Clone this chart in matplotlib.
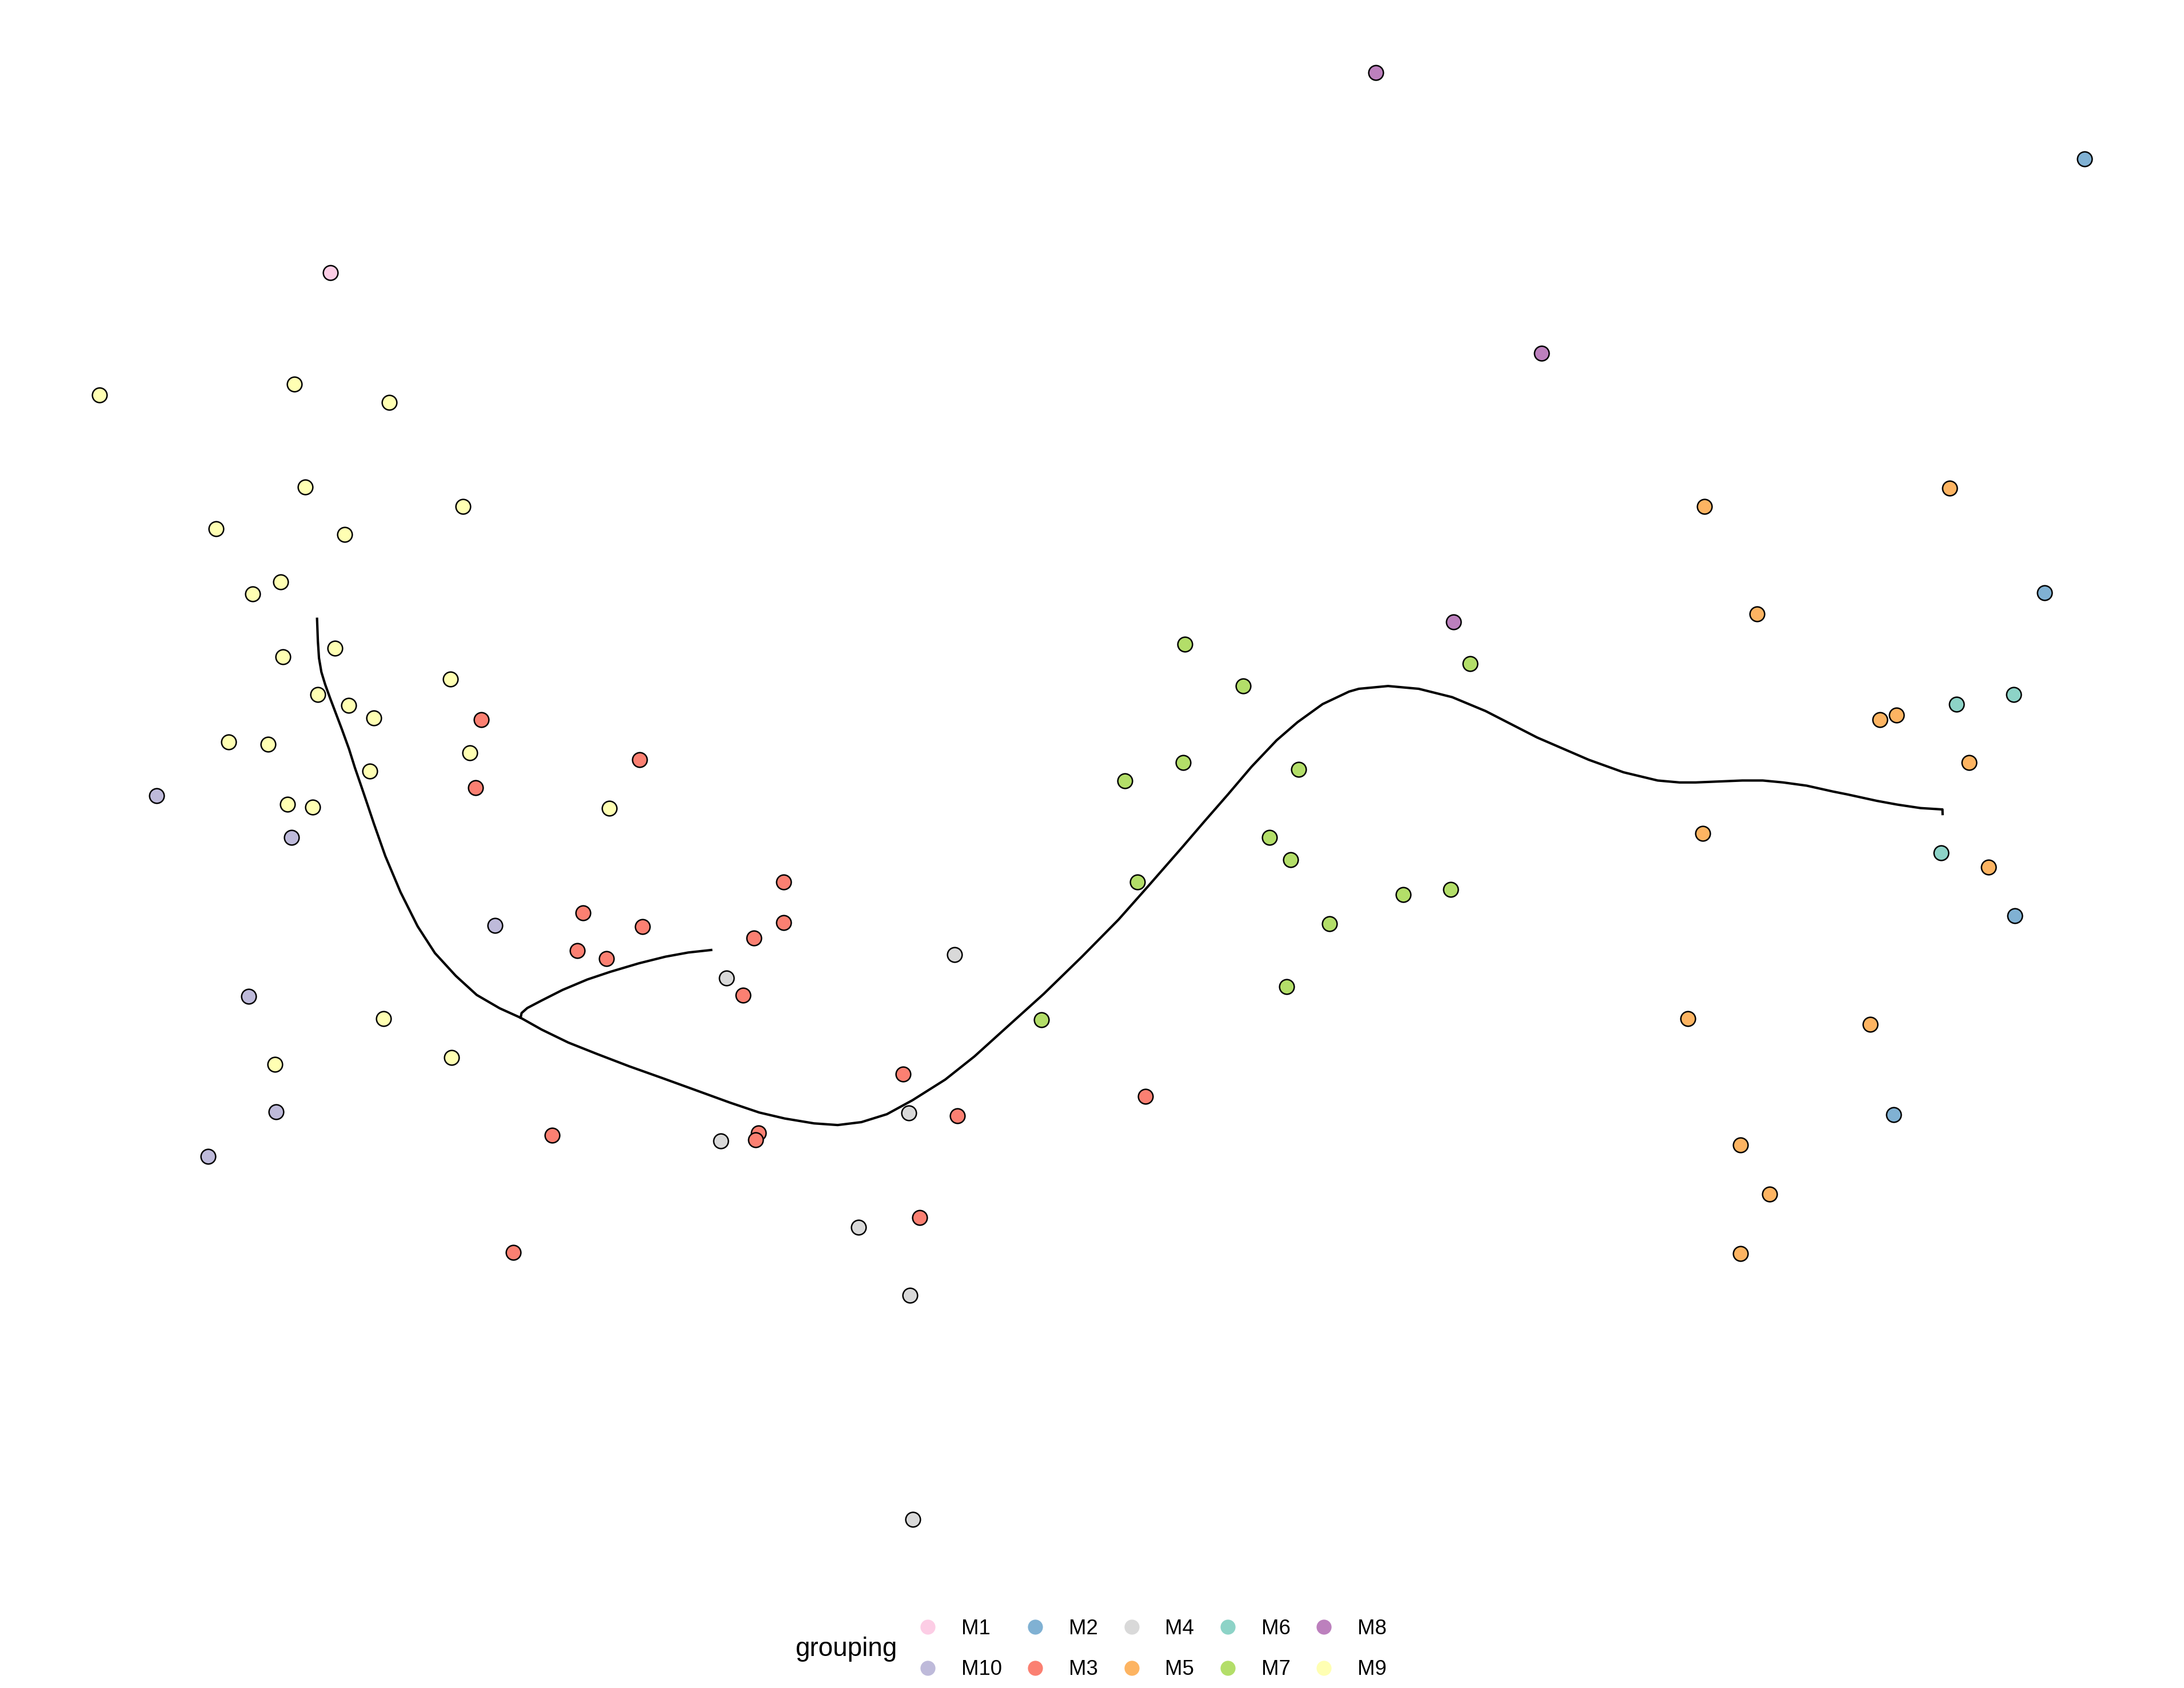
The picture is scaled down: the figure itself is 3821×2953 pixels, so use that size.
import matplotlib
matplotlib.use("Agg")
import matplotlib.pyplot as plt
from matplotlib.lines import Line2D

plt.rcParams['font.family'] = ['Liberation Sans', 'DejaVu Sans']

# cell embedding coordinates (dim1, dim2; dim2 grows downward)
m1_x = [237]
m1_y = [195]
m2_x = [1496, 1467, 1446, 1359]
m2_y = [113, 425, 657, 800]
m3_x = [345, 459, 341, 562, 418, 461, 414, 435, 562, 541, 533, 648, 687, 822, 396, 544, 542, 660, 368]
m3_y = [516, 545, 565, 633, 655, 665, 682, 688, 662, 673, 714, 771, 801, 787, 815, 813, 818, 874, 899]
m4_x = [685, 521, 652, 517, 616, 653, 655]
m4_y = [685, 702, 799, 819, 881, 930, 1091]
m5_x = [1223, 1399, 1261, 1349, 1361, 1413, 1222, 1427, 1211, 1342, 1249, 1270, 1249]
m5_y = [363, 350, 440, 516, 513, 547, 598, 622, 731, 735, 822, 857, 900]
m6_x = [1404, 1445, 1393]
m6_y = [505, 498, 612]
m7_x = [850, 892, 1055, 849, 932, 807, 911, 926, 816, 1041, 1007, 954, 923, 747]
m7_y = [462, 492, 476, 547, 552, 560, 601, 617, 633, 638, 642, 663, 708, 732]
m8_x = [987, 1106, 1043]
m8_y = [51, 253, 446]
m9_x = [71, 211, 279, 219, 155, 247, 332, 181, 201, 203, 240, 228, 250, 268, 164,
        192, 323, 337, 265, 206, 224, 437, 275, 197, 324]
m9_y = [283, 275, 288, 349, 379, 383, 363, 426, 417, 471, 465, 498, 506, 515, 532,
        534, 487, 540, 553, 577, 579, 580, 731, 764, 759]
m10_x = [112, 209, 355, 178, 198, 149]
m10_y = [571, 601, 664, 715, 798, 830]

groups = ['M1', 'M10', 'M2', 'M3', 'M4', 'M5', 'M6', 'M7', 'M8', 'M9']
colors = {'M1': '#FCCDE5', 'M10': '#BEBADA', 'M2': '#80B1D3', 'M3': '#FB8072',
          'M4': '#D9D9D9', 'M5': '#FDB462', 'M6': '#8DD3C7', 'M7': '#B3DE69',
          'M8': '#BC80BD', 'M9': '#FFFFB3'}
coords = {'M1': (m1_x, m1_y), 'M10': (m10_x, m10_y), 'M2': (m2_x, m2_y),
          'M3': (m3_x, m3_y), 'M4': (m4_x, m4_y), 'M5': (m5_x, m5_y),
          'M6': (m6_x, m6_y), 'M7': (m7_x, m7_y), 'M8': (m8_x, m8_y),
          'M9': (m9_x, m9_y)}

# principal curves (lineages)
curve1_x = [227.3, 227.9, 228.7, 230.4, 233.1, 236.7, 240.9, 245.1, 250.3, 254.5,
            258.7, 262.6, 268.1, 276.3, 287.2, 299.5, 311.9, 326.9, 341.9, 358.4,
            373.4, 388.5, 407.6, 428.2, 451.4, 474.7, 497.6, 523.7, 544.7, 563.0,
            584.0, 601.0, 618.0, 636.3, 654.6, 678.2, 699.1, 725.3, 748.9, 776.4,
            802.5, 823.5, 848.4, 864.0, 881.0, 898.0, 916.0, 931.0, 949.0, 968.0,
            975.0, 996.0, 1018.0, 1042.0, 1066.0, 1103.0, 1140.0, 1165.0, 1189.5,
            1205.2, 1216.7, 1250.3, 1264.9, 1279.6, 1296.4, 1315.2, 1325.7, 1346.7,
            1361.4, 1378.1, 1393.9, 1394.0]
curve1_y = [443.7, 459.7, 471.9, 481.9, 490.8, 500.8, 511.9, 523.0, 537.4, 550.8,
            563.0, 574.5, 590.9, 614.2, 640.1, 664.7, 683.9, 700.3, 714.0, 723.6,
            730.4, 738.9, 748.2, 756.4, 765.3, 773.6, 781.9, 791.4, 798.5, 802.8,
            806.3, 807.5, 805.4, 799.7, 789.7, 774.8, 758.2, 734.5, 713.2, 686.4,
            659.9, 636.2, 607.7, 589.5, 570.0, 550.0, 531.0, 518.0, 505.0, 496.0,
            494.0, 492.0, 494.0, 500.0, 510.0, 529.0, 545.0, 554.0, 559.9,
            561.3, 561.3, 559.9, 559.9, 561.3, 563.6, 567.8, 569.9, 574.5,
            577.2, 579.7, 580.7, 584.0]
curve2_x = [373.4, 374.1, 378.2, 388.5, 403.5, 421.3, 437.7, 458.2, 477.4, 493.8, 510.2]
curve2_y = [730.4, 727.0, 723.4, 718.0, 710.4, 702.9, 697.4, 691.3, 686.5, 683.5, 681.7]

fig = plt.figure(figsize=(3821 / 300, 2953 / 300), dpi=300)
ax = fig.add_axes([0, 69 / 1212, 1, 1143 / 1212])

ax.plot(curve1_x, curve1_y, color='black', linewidth=1.0, zorder=2)
ax.plot(curve2_x, curve2_y, color='black', linewidth=1.0, zorder=2)

for g in groups:
    x, y = coords[g]
    ax.scatter(x, y, s=38, c=colors[g], edgecolors='black', linewidths=0.6, zorder=3)

ax.margins(0.05)
ax.invert_yaxis()
ax.axis('off')

handles = [Line2D([], [], linestyle='none', marker='o', markersize=6.3,
                  markerfacecolor=colors[g], markeredgewidth=0) for g in groups]
fig.legend(handles, groups, loc='center left', bbox_to_anchor=(0.420, 0.023),
           ncol=5, frameon=False, fontsize=8.8, handlelength=1.0, handletextpad=1.1,
           columnspacing=1.1, labelspacing=1.0, borderpad=0, borderaxespad=0)
fig.text(571 / 1568, 0.023, 'grouping', fontsize=11, ha='left', va='center')

fig.savefig('out.png', dpi=300)
